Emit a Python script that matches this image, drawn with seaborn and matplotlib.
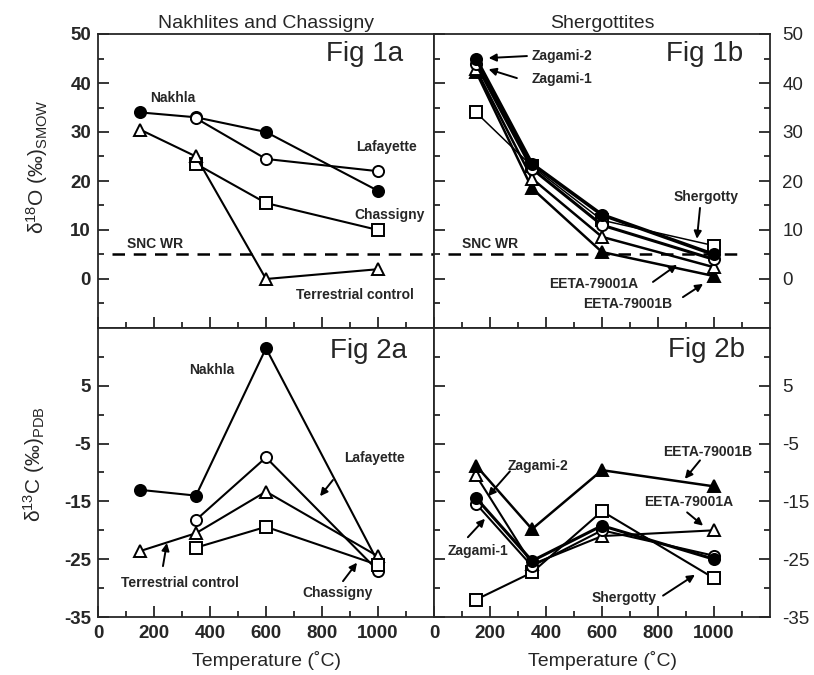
import numpy as np
import pandas as pd
import matplotlib
matplotlib.use("Agg")
import matplotlib.pyplot as plt
import seaborn as sns
from matplotlib.ticker import FixedLocator

# temperature steps (deg C)
temps = [150, 350, 600, 1000]
temps_hi = [350, 600, 1000]

# Fig 1a - delta 18O, nakhlites and chassigny
nakhla_o = [34, 33, 30, 18]
lafayette_o = [32.8, 24.5, 22]
chassigny_o = [23.5, 15.5, 10]
terrestrial_o = [30.5, 25, 0, 2]

# Fig 1b - delta 18O, shergottites
zagami2_o = [45, 23.5, 13.1, 5]
zagami1_o = [43.9, 22.5, 11, 4]
eeta_a_o = [42.8, 20.5, 8.6, 2.4]
eeta_b_o = [42.3, 18.5, 5.5, 0.6]
shergotty_o = [34, 23, 12, 6.8]

# Fig 2a - delta 13C, nakhlites and chassigny
nakhla_c = [-13, -14, 11.5, -25.5]
lafayette_c = [-18.2, -7.4, -27]
terrestrial_c = [-23.6, -20.5, -13.3, -24.5]
chassigny_c = [-23, -19.4, -26]

# Fig 2b - delta 13C, shergottites
eeta_b_c = [-8.8, -19.8, -9.6, -12.4]
eeta_a_c = [-10.5, -25.9, -21, -20]
zagami2_c = [-14.4, -25.3, -19.2, -25]
zagami1_c = [-15.4, -26.2, -20, -24.4]
shergotty_c = [-32, -27.3, -16.7, -28.3]

snc_wr = 5

sns.set_style("ticks")
plt.rcParams['font.family'] = ['Liberation Sans', 'DejaVu Sans']
plt.rcParams['mathtext.fontset'] = 'custom'
plt.rcParams['mathtext.rm'] = 'Liberation Sans'
plt.rcParams['mathtext.it'] = 'Liberation Sans:italic'
plt.rcParams['axes.linewidth'] = 1.3
plt.rcParams['axes.unicode_minus'] = False


# Function to draw one series with seaborn
def draw_series(ax, x, y, marker, filled, lw=1.5):
    df = pd.DataFrame({'T': x, 'd': y})
    sns.lineplot(data=df, x='T', y='d', ax=ax, color='black', marker=marker,
                 markersize=8, markerfacecolor='black' if filled else 'white',
                 markeredgecolor='black', markeredgewidth=1.4, linewidth=lw,
                 estimator=None, sort=False, legend=False)


# Function to draw a label arrow
def arrow(ax, tail, head):
    ax.annotate('', xy=head, xytext=tail,
                arrowprops=dict(arrowstyle='-|>', color='black', lw=1.4,
                                mutation_scale=11, shrinkA=0, shrinkB=0))


def label(ax, x, y, s, ha='center'):
    ax.text(x, y, s, fontsize=10, fontweight='bold', ha=ha, va='center')


fig = plt.figure(figsize=(8.14, 6.75), dpi=100)
gs = fig.add_gridspec(2, 2, left=98 / 814, right=770 / 814, top=1 - 34 / 675,
                      bottom=1 - 617 / 675, hspace=0, wspace=0,
                      height_ratios=[294, 289])
ax1a = fig.add_subplot(gs[0, 0])
ax1b = fig.add_subplot(gs[0, 1])
ax2a = fig.add_subplot(gs[1, 0])
ax2b = fig.add_subplot(gs[1, 1])

# Fig 1a
ax1a.axhline(snc_wr, xmin=50 / 1200, xmax=1, color='black', lw=1.8, ls=(0, (5, 3.5)))
draw_series(ax1a, temps, nakhla_o, 'o', True)
draw_series(ax1a, temps_hi, lafayette_o, 'o', False)
draw_series(ax1a, temps_hi, chassigny_o, 's', False)
draw_series(ax1a, temps, terrestrial_o, '^', False)
label(ax1a, 266, 37, 'Nakhla')
label(ax1a, 1032, 27, 'Lafayette')
label(ax1a, 1043, 13.1, 'Chassigny')
label(ax1a, 918, -3.3, 'Terrestrial control')
label(ax1a, 204, 7.2, 'SNC WR')
ax1a.text(1090, 46, 'Fig 1a', fontsize=20, ha='right', va='center')
ax1a.set_title('Nakhlites and Chassigny', fontsize=14, pad=4)

# Fig 1b
ax1b.axhline(snc_wr, xmin=50 / 1200, xmax=1100 / 1200, color='black', lw=1.8,
             ls=(0, (5, 3.5)))
draw_series(ax1b, temps, shergotty_o, 's', False, lw=1.1)
draw_series(ax1b, temps, eeta_b_o, '^', True, lw=1.8)
draw_series(ax1b, temps, eeta_a_o, '^', False, lw=1.8)
draw_series(ax1b, temps, zagami1_o, 'o', False, lw=2.2)
draw_series(ax1b, temps, zagami2_o, 'o', True, lw=2.6)
label(ax1b, 350, 45.5, 'Zagami-2', ha='left')
arrow(ax1b, (332, 45.5), (195, 45.1))
label(ax1b, 350, 40.8, 'Zagami-1', ha='left')
arrow(ax1b, (296, 41), (195, 42.8))
label(ax1b, 971, 16.8, 'Shergotty')
arrow(ax1b, (950, 14.5), (939, 8.2))
label(ax1b, 200, 7.2, 'SNC WR')
label(ax1b, 571, -1, 'EETA-79001A')
arrow(ax1b, (782, -0.6), (868, 2.9))
label(ax1b, 693, -5.1, 'EETA-79001B')
arrow(ax1b, (889, -3.7), (961, -1))
ax1b.text(1104, 46, 'Fig 1b', fontsize=20, ha='right', va='center')
ax1b.set_title('Shergottites', fontsize=14, pad=4)

# Fig 2a
draw_series(ax2a, temps, nakhla_c, 'o', True)
draw_series(ax2a, temps_hi, lafayette_c, 'o', False)
draw_series(ax2a, temps, terrestrial_c, '^', False)
draw_series(ax2a, temps_hi, chassigny_c, 's', False)
label(ax2a, 407, 7.7, 'Nakhla')
label(ax2a, 989, -7.5, 'Lafayette')
arrow(ax2a, (839, -11.3), (793, -14.1))
label(ax2a, 293, -29.1, 'Terrestrial control')
arrow(ax2a, (232, -26.2), (246, -22.2))
label(ax2a, 857, -30.8, 'Chassigny')
arrow(ax2a, (875, -28.8), (925, -25.6))
ax2a.text(1104, 11.1, 'Fig 2a', fontsize=20, ha='right', va='center')

# Fig 2b
draw_series(ax2b, temps, shergotty_c, 's', False, lw=1.5)
draw_series(ax2b, temps, eeta_a_c, '^', False, lw=1.5)
draw_series(ax2b, temps, zagami1_c, 'o', False, lw=1.5)
draw_series(ax2b, temps, zagami2_c, 'o', True, lw=2.2)
draw_series(ax2b, temps, eeta_b_c, '^', True, lw=1.8)
label(ax2b, 371, -8.8, 'Zagami-2')
arrow(ax2b, (271, -9.8), (193, -14.1))
label(ax2b, 157, -23.6, 'Zagami-1')
arrow(ax2b, (121, -21.2), (182, -18))
label(ax2b, 977, -6.4, 'EETA-79001B')
arrow(ax2b, (950, -7.9), (896, -11.1))
label(ax2b, 908, -15.1, 'EETA-79001A')
arrow(ax2b, (904, -16.9), (961, -19.2))
label(ax2b, 679, -31.7, 'Shergotty')
arrow(ax2b, (818, -31.3), (932, -27.7))
ax2b.text(1111, 11.2, 'Fig 2b', fontsize=20, ha='right', va='center')

# axes, ticks and labels
for ax in [ax1a, ax1b, ax2a, ax2b]:
    ax.set_xlim(0, 1200)
    ax.xaxis.set_major_locator(FixedLocator([0, 200, 400, 600, 800, 1000]))
    ax.xaxis.set_minor_locator(FixedLocator([100, 300, 500, 700, 900, 1100]))
    ax.tick_params(which='major', direction='in', length=8, width=1.3,
                   labelsize=13.5, pad=6)
    ax.tick_params(which='minor', direction='in', length=4.5, width=1.3)
    ax.tick_params(axis='x', which='both', top=False, bottom=True)
    ax.set_xlabel('')
    ax.set_ylabel('')
    for t in ax.get_xticklabels() + ax.get_yticklabels():
        t.set_fontweight('bold')

for ax in [ax1a, ax1b]:
    ax.set_ylim(-10, 50)
    ax.yaxis.set_major_locator(FixedLocator([0, 10, 20, 30, 40, 50]))
    ax.yaxis.set_minor_locator(FixedLocator([-5, 5, 15, 25, 35, 45]))
    ax.tick_params(axis='x', labelbottom=False)

for ax in [ax2a, ax2b]:
    ax.set_ylim(-35, 15)
    ax.yaxis.set_major_locator(FixedLocator([-35, -25, -15, -5, 5]))
    ax.yaxis.set_minor_locator(FixedLocator([-30, -20, -10, 0, 10]))
    ax.set_xlabel('Temperature (˚C)', fontsize=14, labelpad=6)

for ax in [ax1a, ax2a]:
    ax.tick_params(axis='y', which='both', left=True, right=False,
                   labelleft=True, labelright=False, pad=5)

for ax in [ax1b, ax2b]:
    ax.tick_params(axis='y', which='both', left=True, right=True,
                   labelleft=False, labelright=True, pad=9)

ax1a.set_ylabel('δ$^{18}$O (‰)$_{\\mathrm{SMOW}}$', fontsize=15, va='center')
ax1a.yaxis.set_label_coords(-0.18, 0.55)
ax2a.set_ylabel('δ$^{13}$C (‰)$_{\\mathrm{PDB}}$', fontsize=15, va='center')
ax2a.yaxis.set_label_coords(-0.19, 0.53)

plt.savefig('out.png', dpi=100)
